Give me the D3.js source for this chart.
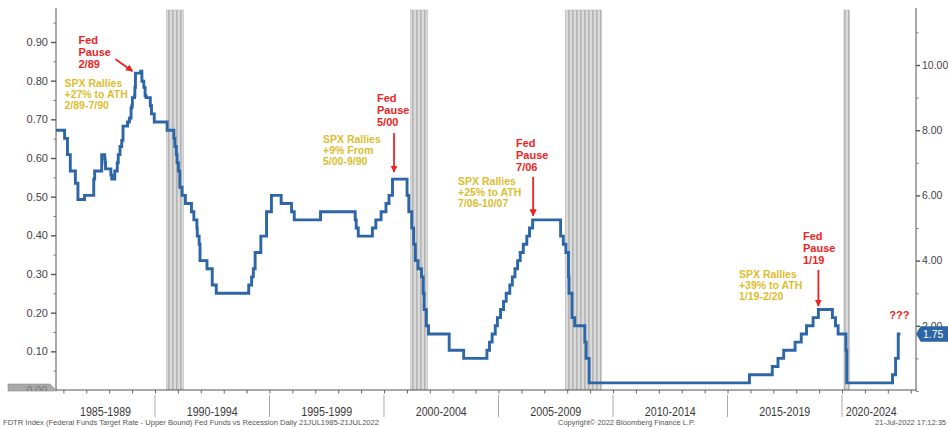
<!DOCTYPE html>
<html><head><meta charset="utf-8">
<script src="https://cdn.jsdelivr.net/npm/d3@7"></script>
<style>
html,body{margin:0;padding:0;background:#fff;}
svg{display:block;font-family:"Liberation Sans",Arial,sans-serif;}
</style></head>
<body>
<svg id="chart" width="948" height="427"></svg>
<script>
// ---------------- DATA ----------------
const rateDates = ["1985-07-21","1986-01-20","1986-03-07","1986-04-21","1986-07-11","1986-08-21","1986-12-04",
"1987-04-30","1987-05-15","1987-09-04","1987-10-22","1987-10-28","1987-11-04","1988-01-28","1988-02-11","1988-03-30",
"1988-05-09","1988-05-25","1988-06-22","1988-07-19","1988-08-08","1988-08-09","1988-10-20","1988-11-17","1988-11-22",
"1988-12-15","1988-12-29","1989-01-05","1989-02-09","1989-02-14","1989-02-23","1989-02-24","1989-05-17","1989-06-06",
"1989-06-07","1989-07-07","1989-07-27","1989-08-10","1989-10-18","1989-11-06","1989-12-20","1990-07-13","1990-10-29",
"1990-11-14","1990-12-07","1990-12-19","1991-01-09","1991-02-01","1991-03-08","1991-04-30","1991-08-06","1991-09-13",
"1991-10-31","1991-11-06","1991-12-06","1991-12-20","1992-04-09","1992-07-02","1992-09-04","1994-02-04","1994-03-22",
"1994-04-18","1994-05-17","1994-08-16","1994-11-15","1995-02-01","1995-07-06","1995-12-19","1996-01-31","1997-03-25",
"1998-09-29","1998-10-15","1998-11-17","1999-06-30","1999-08-24","1999-11-16","2000-02-02","2000-03-21","2000-05-16",
"2001-01-03","2001-01-31","2001-03-20","2001-04-18","2001-05-15","2001-06-27","2001-08-21","2001-09-17","2001-10-02",
"2001-11-06","2001-12-11","2002-11-06","2003-06-25","2004-06-30","2004-08-10","2004-09-21","2004-11-10","2004-12-14",
"2005-02-02","2005-03-22","2005-05-03","2005-06-30","2005-08-09","2005-09-20","2005-11-01","2005-12-13","2006-01-31",
"2006-03-28","2006-05-10","2006-06-29","2007-09-18","2007-10-31","2007-12-11","2008-01-22","2008-01-30","2008-03-18",
"2008-04-30","2008-10-08","2008-10-29","2008-12-16","2015-12-17","2016-12-15","2017-03-16","2017-06-15","2017-12-14",
"2018-03-22","2018-06-14","2018-09-27","2018-12-20","2019-08-01","2019-09-19","2019-10-31","2020-03-04","2020-03-16",
"2022-03-17","2022-05-05","2022-06-16","2022-07-21"];
const rateValues = [8.0,7.75,7.25,6.75,6.375,5.875,6.0,
6.5,6.75,7.25,7.125,7.0,6.8125,6.625,6.5,6.75,
7.0,7.25,7.5,7.6875,7.75,8.125,8.25,8.3125,8.375,
8.6875,8.75,9.0,9.0625,9.3125,9.5625,9.75,9.8125,9.5625,
9.5,9.3125,9.0625,9.0,8.75,8.5,8.25,8.0,7.75,
7.5,7.25,7.0,6.75,6.25,6.0,5.75,5.5,5.25,
5.0,4.75,4.5,4.0,3.75,3.25,3.0,3.25,3.5,
3.75,4.25,4.75,5.5,6.0,5.75,5.5,5.25,5.5,
5.25,5.0,4.75,5.0,5.25,5.5,5.75,6.0,6.5,
6.0,5.5,5.0,4.5,4.0,3.75,3.5,3.0,2.5,
2.0,1.75,1.25,1.0,1.25,1.5,1.75,2.0,2.25,
2.5,2.75,3.0,3.25,3.5,3.75,4.0,4.25,4.5,
4.75,5.0,5.25,4.75,4.5,4.25,3.5,3.0,2.25,
2.0,1.5,1.0,0.25,0.5,0.75,1.0,1.25,1.5,
1.75,2.0,2.25,2.5,2.25,2.0,1.75,1.25,0.25,
0.5,1.0,1.75,1.75];

const recessionStarts = ["1990-07-01","2001-03-01","2007-12-01","2020-02-01"];
const recessionEnds   = ["1991-03-31","2001-11-30","2009-06-30","2020-04-30"];

const periodLabels = ["1985-1989","1990-1994","1995-1999","2000-2004","2005-2009","2010-2014","2015-2019","2020-2024"];
const periodStarts = ["1985-01-01","1990-01-01","1995-01-01","2000-01-01","2005-01-01","2010-01-01","2015-01-01","2020-01-01"];

const leftTicks  = [0.10,0.20,0.30,0.40,0.50,0.60,0.70,0.80,0.90];
const rightTicks = [2,4,6,8,10];

const pauseDates  = ["1989-02-24","2000-05-16","2006-06-29","2018-12-20"];
const pauseValues = [9.75,6.5,5.25,2.5];
const pauseLabels = ["2/89","5/00","7/06","1/19"];
const spxLine1 = ["SPX Rallies","SPX Rallies","SPX Rallies","SPX Rallies"];
const spxLine2 = ["+27% to ATH","+9% From","+25% to ATH","+39% to ATH"];
const spxLine3 = ["2/89-7/90","5/00-9/90","7/06-10/07","1/19-2/20"];

const lastValueLabel = "1.75";
const footerLeft = "FDTR Index (Federal Funds Target Rate - Upper Bound) Fed Funds vs Recession  Daily 21JUL1985-21JUL2022";
const footerMid = "Copyright\u00A9 2022 Bloomberg Finance L.P.";
const footerRight = "21-Jul-2022 17:12:35";

// ---------------- LAYOUT ----------------
const parse = d3.timeParse("%Y-%m-%d");
const L = 56, R = 916, T = 8, B = 390;
const BLUE = "#2c66a6", RED = "#ee2424", GOLD = "#dcbd2e";

const x = d3.scaleTime().domain([new Date(1990,0,1), new Date(2020,0,1)]).range([155, 842]);
const yR = d3.scaleLinear().domain([0,10]).range([391,65]);
const yL = d3.scaleLinear().domain([0,0.9]).range([390,42]);

const svg = d3.select("#chart");
const defs = svg.append("defs");
defs.append("clipPath").attr("id","plotclip").append("rect")
  .attr("x",L).attr("y",T).attr("width",R-L).attr("height",B-T);
const pat = defs.append("pattern").attr("id","stripes").attr("patternUnits","userSpaceOnUse")
  .attr("width",4).attr("height",10);
pat.append("rect").attr("width",4).attr("height",10).attr("fill","#dadada");
pat.append("rect").attr("width",1.6).attr("height",10).attr("fill","#b4b4b4");

const plot = svg.append("g").attr("clip-path","url(#plotclip)");

// recession bands
plot.selectAll("rect.rec").data(recessionStarts.map((s,i)=>({s:parse(s),e:parse(recessionEnds[i])})))
  .enter().append("rect").attr("class","rec")
  .attr("x",d=>x(d.s)).attr("width",d=>x(d.e)-x(d.s))
  .attr("y",T+2).attr("height",B-T-2)
  .attr("fill","url(#stripes)").attr("stroke","#bdbdbd").attr("stroke-width",0.6);

// rate line
const rateData = rateDates.map((d,i)=>({date:parse(d), v:rateValues[i]}));
const line = d3.line().x(d=>x(d.date)).y(d=>yR(d.v)).curve(d3.curveStepAfter);
plot.append("path").datum(rateData).attr("d",line)
  .attr("fill","none").attr("stroke",BLUE).attr("stroke-width",2.9).attr("stroke-linejoin","miter");

// axes lines
svg.append("line").attr("x1",L).attr("x2",L).attr("y1",T).attr("y2",B).attr("stroke","#555");
svg.append("line").attr("x1",R).attr("x2",R).attr("y1",T).attr("y2",B).attr("stroke","#555");
svg.append("line").attr("x1",L).attr("x2",R+1).attr("y1",B).attr("y2",B).attr("stroke","#555");

// left axis
const leftAxis = d3.axisLeft(yL).tickValues(leftTicks).tickFormat(d3.format(".2f")).tickSize(5).tickPadding(3);
const gl = svg.append("g").attr("transform",`translate(${L},0)`).call(leftAxis);
gl.select(".domain").remove();
gl.selectAll("text").attr("font-size",11).attr("fill","#444").attr("font-family","Liberation Sans, Arial, sans-serif");
gl.selectAll("line").attr("stroke","#555").attr("stroke-width",1.4);
const gl2 = svg.append("g").attr("transform",`translate(${L},0)`)
  .call(d3.axisLeft(yL).tickValues(d3.range(0.05,0.96,0.1)).tickFormat("").tickSize(2.5));
gl2.select(".domain").remove(); gl2.selectAll("line").attr("stroke","#777");

// right axis
const gr = svg.append("g").attr("transform",`translate(${R},0)`)
  .call(d3.axisRight(yR).tickValues(rightTicks).tickFormat(d3.format(".2f")).tickSize(4).tickPadding(2));
gr.select(".domain").remove();
gr.selectAll("text").attr("font-size",10.5).attr("fill","#444").attr("font-family","Liberation Sans, Arial, sans-serif");
gr.selectAll("line").attr("stroke","#555").attr("stroke-width",1.4);
const gr2 = svg.append("g").attr("transform",`translate(${R},0)`)
  .call(d3.axisRight(yR).tickValues([0,1,3,5,7,9,11]).tickFormat("").tickSize(2.5));
gr2.select(".domain").remove(); gr2.selectAll("line").attr("stroke","#777");

// bottom axis (yearly ticks)
const years = d3.timeYear.range(new Date(1986,0,1), new Date(2024,0,1)).filter(d=>x(d)>L && x(d)<R);
const gb = svg.append("g").attr("transform",`translate(0,${B})`)
  .call(d3.axisBottom(x).tickValues(years).tickFormat("").tickSize(3.5));
gb.select(".domain").remove(); gb.selectAll("line").attr("stroke","#666");

// period separators & labels
const dataStart = rateData[0].date, dataEnd = rateData[rateData.length-1].date;
const clampX = v => Math.max(L, Math.min(R, v));
periodStarts.forEach((s,i)=>{
  const ps = parse(s);
  const pe = d3.timeYear.offset(ps,5);
  if (i>0) {
    svg.append("line").attr("x1",x(ps)).attr("x2",x(ps)).attr("y1",B+5).attr("y2",B+27)
      .attr("stroke","#aaa").attr("stroke-width",1);
  }
  const a = clampX(x(ps < dataStart ? dataStart : ps));
  const b = clampX(x(pe > dataEnd ? dataEnd : pe));
  svg.append("text").attr("x",(a+b)/2).attr("y",B+26).attr("text-anchor","middle")
    .attr("font-size",12.5).attr("fill","#3a3a3a")
    .attr("textLength",51).attr("lengthAdjust","spacingAndGlyphs")
    .text(periodLabels[i]);
});

// 0.00 gray tag (recession series value)
const tag0 = svg.append("g");
tag0.append("path").attr("d",`M8,${B-6} L50,${B-6} L57,${B+1} L8,${B+1} Z`).attr("fill","#a9a9a9").attr("stroke","#8a8a8a").attr("stroke-width",0.6);
defs.append("clipPath").attr("id","tagclip").append("rect").attr("x",8).attr("y",B-6).attr("width",50).attr("height",7);
tag0.append("text").attr("clip-path","url(#tagclip)").attr("x",47).attr("y",B+4).attr("text-anchor","end")
  .attr("font-size",10.5).attr("fill","#7a7a7a").text("0.00");

// last value tag
const lv = rateData[rateData.length-1];
const ty = yR(lv.v);
svg.append("path").attr("d",`M${R+1},${ty} L${R+5},${ty-7} L948,${ty-7} L948,${ty+7} L${R+5},${ty+7} Z`)
  .attr("fill",BLUE).attr("stroke",BLUE).attr("stroke-linejoin","round").attr("stroke-width",1.5);
svg.append("text").attr("x",R+7).attr("y",ty+4).attr("font-size",10.5).attr("fill","#fff").text(lastValueLabel);

// "???"
svg.append("text").attr("x",x(lv.date)-1).attr("y",ty-15).attr("text-anchor","middle")
  .attr("font-size",11).attr("font-weight","bold").attr("fill",RED).text("???");

// annotations
defs.append("marker").attr("id","arrowhead").attr("viewBox","0 0 10 10").attr("refX",9).attr("refY",5)
  .attr("markerWidth",4).attr("markerHeight",4).attr("orient","auto")
  .append("path").attr("d","M0,0 L10,5 L0,10 Z").attr("fill",RED);

const annLayout = [
  {a0:[-20,-14], a1:[-3,-2],   fx:-57,   fy:-29, sx:-71,   sy:14},
  {a0:[1.5,-46], a1:[1.5,-7],  fx:-15.5, fy:-77, sx:-69.5, sy:-36},
  {a0:[0.5,-43], a1:[0.5,-4],  fx:-16.6, fy:-73, sx:-74.6, sy:-35},
  {a0:[0,-39.5], a1:[0,-3.5],  fx:-15.4, fy:-69.5, sx:-79.4, sy:-31.5}
];
pauseDates.forEach((d,i)=>{
  const px = x(parse(d)), py = yR(pauseValues[i]);
  const lay = annLayout[i];
  const g = svg.append("g").attr("font-weight","bold");
  g.append("line").attr("x1",px+lay.a0[0]).attr("y1",py+lay.a0[1])
    .attr("x2",px+lay.a1[0]).attr("y2",py+lay.a1[1])
    .attr("stroke",RED).attr("stroke-width",1.8).attr("marker-end","url(#arrowhead)");
  ["Fed","Pause",pauseLabels[i]].forEach((t,k)=>{
    g.append("text").attr("x",px+lay.fx).attr("y",py+lay.fy+k*12)
      .attr("font-size",11).attr("fill",RED).text(t);
  });
  [spxLine1[i],spxLine2[i],spxLine3[i]].forEach((t,k)=>{
    g.append("text").attr("x",px+lay.sx).attr("y",py+lay.sy+k*11)
      .attr("font-size",10.5).attr("fill",GOLD).text(t);
  });
});

// footer
const ft = svg.append("g").attr("font-size",7.5).attr("fill","#555");
ft.append("text").attr("x",3).attr("y",425).attr("textLength",376).attr("lengthAdjust","spacingAndGlyphs").text(footerLeft);
ft.append("text").attr("x",558).attr("y",425).attr("textLength",137).attr("lengthAdjust","spacingAndGlyphs").text(footerMid);
ft.append("text").attr("x",946).attr("y",425).attr("text-anchor","end").text(footerRight);
</script>
</body></html>
